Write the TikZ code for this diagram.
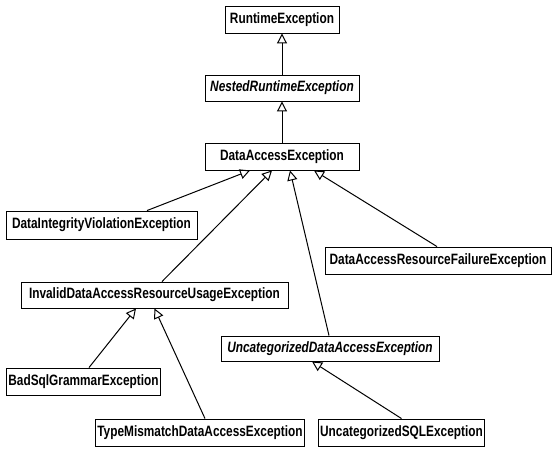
\documentclass[tikz,border=0pt]{standalone}
\usepackage{fontspec}
\setmainfont{Liberation Sans}[FakeStretch=0.79]
\usetikzlibrary{arrows.meta}

\tikzset{
    cls/.style={draw, line width=0.9pt, font=\fontsize{15}{17}\selectfont\bfseries,
        minimum height=27pt, inner sep=2pt},
    abstr/.style={cls, font=\fontsize{15}{17}\selectfont\bfseries\itshape},
    inh/.style={line width=1pt, -{Triangle[open, length=10pt, width=10pt]}}
}

\begin{document}
\begin{tikzpicture}[x=1pt, y=-1pt]
    \useasboundingbox (0,0) rectangle (558,451);

    % Top of the hierarchy
    \node[cls, minimum width=114pt] (rte) at (282,19.5) {RuntimeException};
    \node[abstr, minimum width=154pt, minimum height=26pt] (nrte) at (282,88) {NestedRuntimeException};
    \node[cls, minimum width=154pt] (dae) at (282,156.5) {DataAccessException};

    % Direct subclasses
    \node[cls, minimum width=191pt, minimum height=28pt] (div) at (101.5,225) {DataIntegrityViolationException};
    \node[cls, minimum width=267pt, minimum height=26pt] (idarue) at (154.5,295) {InvalidDataAccessResourceUsageException};
    \node[cls, minimum width=226pt] (darfe) at (438,260.5) {DataAccessResourceFailureException};
    \node[abstr, minimum width=218pt, minimum height=25pt] (udae) at (330,348.5) {UncategorizedDataAccessException};

    % Bottom row
    \node[cls, minimum width=151pt] (bsge) at (83.5,381.5) {BadSqlGrammarException};
    \node[cls, minimum width=202pt] (tmdae) at (200,432.5) {TypeMismatchDataAccessException};
    \node[cls, minimum width=161pt] (usqle) at (401.5,432.5) {UncategorizedSQLException};

    % Inheritance arrows, child/shift/parent/shift
    \foreach \c/\cs/\p/\ps in {nrte/0/rte/0, dae/0/nrte/0,
        div/45.5/dae/-32, idarue/7.5/dae/-10, udae/-1/dae/8, darfe/-1/dae/32,
        bsge/5.5/idarue/-18.5, tmdae/5/idarue/0, usqle/0/udae/-18} {
        \draw[inh] ([xshift=\cs pt]\c.north) -- ([xshift=\ps pt]\p.south);
    }
\end{tikzpicture}
\end{document}
